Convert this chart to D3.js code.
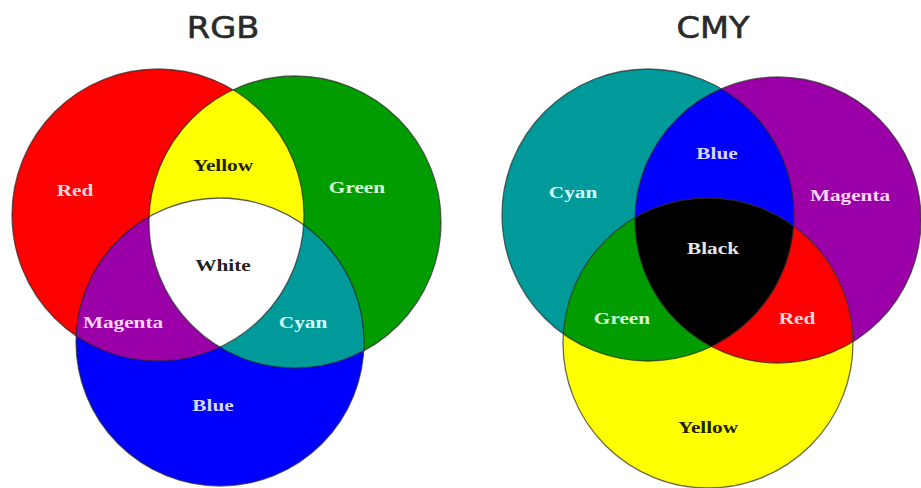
<!DOCTYPE html>
<html>
<head>
<meta charset="utf-8">
<script src="https://cdn.jsdelivr.net/npm/d3@7"></script>
<style>
  html, body { margin: 0; padding: 0; background: #fff; }
  svg { display: block; }
</style>
</head>
<body>
<svg id="chart" width="921" height="488"></svg>
<script>
// ---------- DATA ----------
const panelTitles = ["RGB", "CMY"];

const rgbSets = ["Red", "Green", "Blue"];
const rgbSetColors = ["#ff0000", "#009c00", "#0000ff"];
const rgbSetTextColors = ["#ffd6d6", "#d6ffd6", "#d6d6ff"];
const rgbPairs = [[0, 1], [0, 2], [1, 2]];
const rgbPairLabels = ["Yellow", "Magenta", "Cyan"];
const rgbPairColors = ["#ffff00", "#9b00a8", "#009a9a"];
const rgbPairTextColors = ["#222200", "#ffd6ff", "#d6ffff"];
const rgbTripleLabel = "White";
const rgbTripleColor = "#ffffff";
const rgbTripleTextColor = "#222222";

const cmySets = ["Cyan", "Magenta", "Yellow"];
const cmySetColors = ["#009a9a", "#9b00a8", "#ffff00"];
const cmySetTextColors = ["#d6ffff", "#ffd6ff", "#222200"];
const cmyPairs = [[0, 1], [0, 2], [1, 2]];
const cmyPairLabels = ["Blue", "Green", "Red"];
const cmyPairColors = ["#0000ff", "#009c00", "#ff0000"];
const cmyPairTextColors = ["#d6d6ff", "#d6ffd6", "#ffd6d6"];
const cmyTripleLabel = "Black";
const cmyTripleColor = "#000000";
const cmyTripleTextColor = "#e6e6e6";

// ---------- LAYOUT (panel geometry, in pixels) ----------
const layouts = [
  {
    titleX: 223, titleY: 38,
    circles: [{cx: 158, cy: 215, r: 146}, {cx: 295, cy: 222, r: 146}, {cx: 220, cy: 342, r: 144}],
    setLabelPos: [[75, 190], [357, 187], [213, 405]],
    pairLabelPos: [[223, 165], [123, 322], [303, 322]],
    tripleLabelPos: [223, 265]
  },
  {
    titleX: 713, titleY: 38,
    circles: [{cx: 648, cy: 215, r: 146}, {cx: 778, cy: 220, r: 143}, {cx: 708, cy: 343, r: 145}],
    setLabelPos: [[573, 192], [850, 195], [708, 427]],
    pairLabelPos: [[717, 153], [622, 318], [797, 318]],
    tripleLabelPos: [713, 248]
  }
];

const panels = [
  {sets: rgbSets, setColors: rgbSetColors, setText: rgbSetTextColors, pairs: rgbPairs,
   pairLabels: rgbPairLabels, pairColors: rgbPairColors, pairText: rgbPairTextColors,
   tripleLabel: rgbTripleLabel, tripleColor: rgbTripleColor, tripleText: rgbTripleTextColor},
  {sets: cmySets, setColors: cmySetColors, setText: cmySetTextColors, pairs: cmyPairs,
   pairLabels: cmyPairLabels, pairColors: cmyPairColors, pairText: cmyPairTextColors,
   tripleLabel: cmyTripleLabel, tripleColor: cmyTripleColor, tripleText: cmyTripleTextColor}
];

const svg = d3.select("#chart");
const defs = svg.append("defs");

function label(g, text, pos, color, size, family, weight, stretch) {
  g.append("text")
    .attr("transform", `translate(${pos[0]},${pos[1]}) scale(${stretch},1)`)
    .attr("text-anchor", "middle")
    .attr("dominant-baseline", "central")
    .attr("font-family", family)
    .attr("font-size", size)
    .attr("font-weight", weight)
    .attr("fill", color)
    .text(text);
}

panels.forEach((p, pi) => {
  const L = layouts[pi];
  const g = svg.append("g");
  L.circles.forEach((c, ci) => {
    defs.append("clipPath").attr("id", `clip-${pi}-${ci}`)
      .append("circle").attr("cx", c.cx).attr("cy", c.cy).attr("r", c.r);
  });
  p.pairs.forEach((pr, k) => {
    const c = L.circles[pr[1]];
    defs.append("clipPath").attr("id", `clip-${pi}-pair-${k}`)
      .attr("clip-path", `url(#clip-${pi}-${pr[0]})`)
      .append("circle").attr("cx", c.cx).attr("cy", c.cy).attr("r", c.r);
  });

  g.selectAll("circle.set").data(p.sets).join("circle")
    .attr("class", "set")
    .attr("cx", (d, i) => L.circles[i].cx)
    .attr("cy", (d, i) => L.circles[i].cy)
    .attr("r", (d, i) => L.circles[i].r)
    .attr("fill", (d, i) => p.setColors[i]);

  p.pairs.forEach((pr, k) => {
    const c = L.circles[pr[1]];
    g.append("circle")
      .attr("cx", c.cx).attr("cy", c.cy).attr("r", c.r)
      .attr("clip-path", `url(#clip-${pi}-${pr[0]})`)
      .attr("fill", p.pairColors[k]);
  });

  const c3 = L.circles[2];
  g.append("circle")
    .attr("cx", c3.cx).attr("cy", c3.cy).attr("r", c3.r)
    .attr("clip-path", `url(#clip-${pi}-pair-0)`)
    .attr("fill", p.tripleColor);

  g.selectAll("circle.outline").data(p.sets).join("circle")
    .attr("class", "outline")
    .attr("cx", (d, i) => L.circles[i].cx)
    .attr("cy", (d, i) => L.circles[i].cy)
    .attr("r", (d, i) => L.circles[i].r)
    .attr("fill", "none")
    .attr("stroke", "#2a2a2a")
    .attr("stroke-opacity", 0.7)
    .attr("stroke-width", 1.3);

  const serif = "'Liberation Serif', 'Times New Roman', serif";
  p.sets.forEach((s, i) => label(g, s, L.setLabelPos[i], p.setText[i], 17, serif, "bold", 1.25));
  p.pairLabels.forEach((s, i) => label(g, s, L.pairLabelPos[i], p.pairText[i], 17, serif, "bold", 1.25));
  label(g, p.tripleLabel, L.tripleLabelPos, p.tripleText, 17, serif, "bold", 1.25);

  g.append("text")
    .attr("transform", `translate(${L.titleX},${L.titleY}) scale(1.12,1)`)
    .attr("text-anchor", "middle")
    .attr("font-family", "'DejaVu Sans', Verdana, sans-serif")
    .attr("font-size", 30)
    .attr("fill", "#2a2a2a")
    .attr("stroke", "#2a2a2a")
    .attr("stroke-width", 0.6)
    .text(panelTitles[pi]);
});
</script>
</body>
</html>
